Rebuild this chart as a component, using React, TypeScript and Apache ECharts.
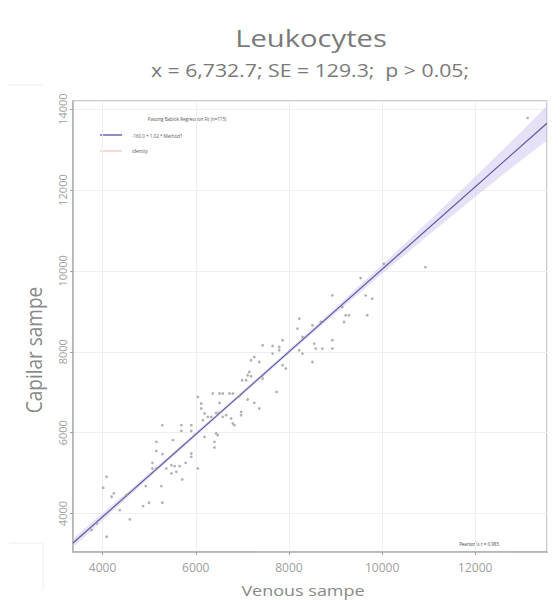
import React, { useEffect, useRef } from "react";
import * as echarts from "echarts";

// Venous sample (x) vs capillary sample (y), leukocytes
const venous = [
  3765, 3872, 4013, 4086, 4086, 4193, 4242, 4370, 4406, 4513,
  4584, 4868, 4926, 4997, 5070, 5070, 5155, 5155, 5155, 5262,
  5283, 5283, 5283, 5369, 5476, 5547, 5654, 5476, 5583, 5711,
  5782, 5510, 5690, 5690, 5904, 5904, 5904, 5904, 6045, 5974,
  6045, 6118, 6118, 6152, 6188, 6188, 6259, 6332, 6366, 6509,
  6580, 6723, 6794, 6509, 6438, 6494, 6402, 6402, 6438, 6473,
  6580, 6652, 6759, 6794, 6830, 6973, 6973, 6937, 6995, 7080,
  7114, 7187, 7114, 7258, 7365, 7435, 7435, 7735, 7365, 7187,
  7936, 7151, 7258, 7863, 7435, 7649, 7792, 7792, 7649, 7863,
  8184, 8220, 8220, 8291, 8291, 8505, 8541, 8505, 8577, 8719,
  8933, 8933, 8684, 8933, 9146, 9219, 9290, 9183, 9681, 9647,
  9788, 9540, 10038, 10930, 13125,
];
const capillary = [
  3593, 3758, 4637, 4909, 3427, 4415, 4499, 4086, 4333, 4457,
  3857, 4185, 4679, 4267, 5254, 5116, 5116, 5551, 5773, 4679,
  4267, 5469, 6185, 5116, 5197, 5173, 5173, 4993, 5032, 4844,
  5254, 5815, 6044, 6185, 6185, 6044, 5486, 5402, 5116, 5938,
  6884, 6721, 6597, 6309, 5896, 6474, 6390, 6390, 6968, 6968,
  6968, 6968, 6968, 6736, 6489, 6489, 5773, 5634, 5980, 5938,
  6390, 6432, 6351, 6227, 6185, 6513, 6432, 6901, 7296, 7296,
  7420, 7395, 6820, 6736, 6597, 7420, 7338, 7007, 7748, 7790,
  7585, 7501, 7871, 7667, 8160, 8143, 8118, 8037, 7955, 8284,
  8573, 8820, 8037, 7955, 8365, 8654, 8202, 7748, 8079, 8079,
  8079, 8284, 8736, 9395, 9106, 8901, 8901, 8736, 8901, 9395,
  9313, 9822, 10177, 10093, 13782,
];

// Passing-Bablok fit line and its confidence band
const fitX = [3365, 13540];
const fitY = [3272, 13651];
const bandX = [3365, 5000, 6700, 8500, 10000, 11000, 12000, 13000, 13540];
const bandLow = [3162, 4885, 6634, 8450, 9930, 10890, 11830, 12750, 13221];
const bandHigh = [3382, 4995, 6714, 8570, 10150, 11230, 12330, 13450, 14081];

const xRange = [3365, 13540];
const yRange = [3050, 14200];

const titleText = "Leukocytes";
const subtitleText = "x = 6,732.7; SE = 129.3;  p > 0.05;";
const xName = "Venous sampe";
const yName = "Capilar sampe";
const legendTitle = "Passing Bablok Regression Fit (n=115)";
const legendFit = "-160.0 + 1.02 * Method1";
const legendIdentity = "identity";
const pearsonText = "Pearson's r = 0.983";

export default function App() {
  const ref = useRef<HTMLDivElement>(null);
  useEffect(() => {
    const chart = echarts.init(ref.current!, null, { renderer: "svg" });
    const font = '"Open Sans", sans-serif';
    chart.setOption({
      animation: false,
      backgroundColor: "#ffffff",
      grid: {
        left: 73,
        top: 101,
        right: 6,
        bottom: 50,
        show: true,
        borderColor: "#b8b8b8",
        borderWidth: 1.5,
        backgroundColor: "#ffffff",
      },
      xAxis: {
        type: "value",
        min: xRange[0],
        max: xRange[1],
        axisLine: { show: true, lineStyle: { color: "#b0b0b0", width: 1.5 } },
        axisTick: { show: true, length: 3, lineStyle: { color: "#a0a0a0" } },
        axisLabel: {
          color: "#a0a0a0",
          fontSize: 12,
          fontFamily: font,
          margin: 9,
          showMinLabel: false,
          showMaxLabel: false,
          formatter: (v: number) => String(v),
        },
        splitLine: { show: true, lineStyle: { color: "#efefef", width: 1 } },
      },
      yAxis: {
        type: "value",
        min: yRange[0],
        max: yRange[1],
        axisLine: { show: true, lineStyle: { color: "#b0b0b0", width: 1.5 } },
        axisTick: { show: true, length: 3, lineStyle: { color: "#a0a0a0" } },
        axisLabel: {
          color: "#a0a0a0",
          fontSize: 11,
          fontFamily: font,
          rotate: 90,
          margin: 5,
          showMinLabel: false,
          showMaxLabel: false,
          formatter: (v: number) => String(v),
        },
        splitLine: { show: true, lineStyle: { color: "#efefef", width: 1 } },
      },
      series: [
        {
          type: "custom",
          silent: true,
          clip: true,
          z: 1,
          data: [[bandX[0], bandLow[0]]],
          renderItem: (_params: any, api: any) => {
            const upper = bandX.map((x, i) => api.coord([x, bandHigh[i]]));
            const lower = bandX.map((x, i) => api.coord([x, bandLow[i]])).reverse();
            return {
              type: "polygon",
              shape: { points: upper.concat(lower) },
              style: { fill: "rgba(205,196,238,0.5)", stroke: "none" },
            };
          },
        },
        {
          type: "line",
          silent: true,
          z: 3,
          showSymbol: false,
          data: fitX.map((x, i) => [x, fitY[i]]),
          lineStyle: { color: "#5a58a6", width: 1.2 },
        },
        {
          type: "scatter",
          z: 4,
          symbol: "circle",
          symbolSize: 2.8,
          data: venous.map((x, i) => [x, capillary[i]]),
          itemStyle: { color: "#999999", opacity: 0.75 },
        },
      ],
      graphic: [
        {
          type: "text",
          x: 311,
          y: 38,
          scaleX: 1.27,
          style: {
            text: titleText,
            fontSize: 23,
            fontFamily: font,
            fill: "#7a7a7a",
            align: "center",
            verticalAlign: "middle",
          },
        },
        {
          type: "text",
          x: 310,
          y: 70,
          scaleX: 1.18,
          style: {
            text: subtitleText,
            fontSize: 18,
            fontFamily: font,
            fill: "#7a7a7a",
            align: "center",
            verticalAlign: "middle",
          },
        },
        {
          type: "text",
          x: 303,
          y: 590,
          scaleX: 1.2,
          style: {
            text: xName,
            fontSize: 15,
            fontFamily: font,
            fill: "#8a8a8a",
            align: "center",
            verticalAlign: "middle",
          },
        },
        {
          type: "text",
          x: 33,
          y: 350,
          rotation: Math.PI / 2,
          scaleY: 1.15,
          style: {
            text: yName,
            fontSize: 19,
            fontFamily: font,
            fill: "#8a8a8a",
            align: "center",
            verticalAlign: "middle",
          },
        },
        {
          type: "text",
          x: 187,
          y: 119,
          style: {
            text: legendTitle,
            fontSize: 4.5,
            fontFamily: font,
            fill: "#555",
            align: "center",
            verticalAlign: "middle",
          },
        },
        {
          type: "line",
          shape: { x1: 100, y1: 135, x2: 122, y2: 135 },
          style: { stroke: "#6a68b0", lineWidth: 1.5 },
        },
        {
          type: "text",
          x: 132,
          y: 136,
          style: {
            text: legendFit,
            fontSize: 4.5,
            fontFamily: font,
            fill: "#555",
            align: "left",
            verticalAlign: "middle",
          },
        },
        {
          type: "line",
          shape: { x1: 100, y1: 151, x2: 122, y2: 151 },
          style: { stroke: "#f2b9b0", lineWidth: 1 },
        },
        {
          type: "text",
          x: 132,
          y: 151,
          style: {
            text: legendIdentity,
            fontSize: 4.5,
            fontFamily: font,
            fill: "#555",
            align: "left",
            verticalAlign: "middle",
          },
        },
        {
          type: "text",
          x: 479,
          y: 544,
          style: {
            text: pearsonText,
            fontSize: 4.5,
            fontFamily: font,
            fill: "#444",
            align: "center",
            verticalAlign: "middle",
          },
        },
        {
          type: "line",
          shape: { x1: 9, y1: 85, x2: 43, y2: 85 },
          style: { stroke: "#ededed", lineWidth: 1 },
        },
        {
          type: "line",
          shape: { x1: 9, y1: 543, x2: 43, y2: 543 },
          style: { stroke: "#ededed", lineWidth: 1 },
        },
        {
          type: "line",
          shape: { x1: 43, y1: 543, x2: 43, y2: 590 },
          style: { stroke: "#ededed", lineWidth: 1 },
        },
      ],
    });
    return () => chart.dispose();
  }, []);
  return (
    <div
      ref={ref}
      style={{
        position: "fixed",
        left: 0,
        top: 0,
        width: 553,
        height: 602,
        background: "#ffffff",
      }}
    />
  );
}
